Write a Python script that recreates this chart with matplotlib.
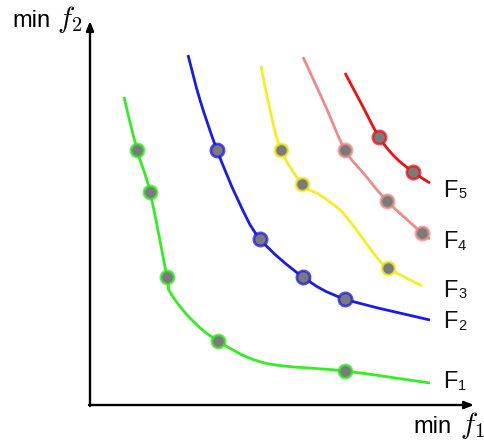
import numpy as np
import matplotlib
matplotlib.use("Agg")
import matplotlib.pyplot as plt
from matplotlib.path import Path
from matplotlib.patches import PathPatch
from matplotlib.colors import to_rgba

plt.rcParams['font.family'] = ['Liberation Sans', 'DejaVu Sans']
plt.rcParams['mathtext.fontset'] = 'cm'

# Data in chart units (origin at the axes corner)
f1_x = [34, 47, 60, 77, 80, 100, 128, 175, 255, 340]
f1_y = [308, 255, 213, 128, 113, 87, 64, 42, 34, 22]
f1_mx = [47, 60, 77, 128, 255]
f1_my = [255, 213, 128, 64, 34]

f2_x = [98, 110, 127, 148, 170, 213, 255, 340]
f2_y = [350, 305, 255, 205, 166, 128, 106, 85]
f2_mx = [127, 170, 213, 255]
f2_my = [255, 166, 128, 106]

f3_x = [171, 180, 191, 212, 230, 250, 265, 285, 298, 332]
f3_y = [339, 295, 255, 221, 210, 195, 177, 150, 137, 119]
f3_mx = [191, 212, 298]
f3_my = [255, 221, 137]

f4_x = [213, 235, 255, 275, 297, 332, 340]
f4_y = [348, 300, 255, 230, 204, 172, 166]
f4_mx = [255, 297, 332]
f4_my = [255, 204, 172]

f5_x = [255, 272, 289, 305, 323, 340]
f5_y = [332, 300, 268, 248, 233, 222]
f5_mx = [289, 323]
f5_my = [268, 233]

label_main = ['F', 'F', 'F', 'F', 'F']
label_sub = ['1', '2', '3', '4', '5']
label_y = [17, 77, 108, 157, 208]
colors = ['#33ee22', '#1a1aee', '#f5ee20', '#f08a8a', '#ee1111']

series = [
    (f1_x, f1_y, f1_mx, f1_my),
    (f2_x, f2_y, f2_mx, f2_my),
    (f3_x, f3_y, f3_mx, f3_my),
    (f4_x, f4_y, f4_mx, f4_my),
    (f5_x, f5_y, f5_mx, f5_my),
]


def smooth_path(xs, ys):
    """Catmull-Rom through the points, expressed as cubic Bezier segments."""
    p = np.column_stack([xs, ys]).astype(float)
    n = len(p)
    verts = [p[0]]
    codes = [Path.MOVETO]
    for i in range(n - 1):
        p0 = p[i - 1] if i > 0 else p[i]
        p1 = p[i]
        p2 = p[i + 1]
        p3 = p[i + 2] if i + 2 < n else p[i + 1]
        c1 = p1 + (p2 - p0) / 6.0
        c2 = p2 - (p3 - p1) / 6.0
        verts += [c1, c2, p2]
        codes += [Path.CURVE4] * 3
    return Path(verts, codes)


fig = plt.figure(figsize=(4.85, 4.41), dpi=100)
ax = fig.add_axes([0, 0, 1, 1])
ax.set_xlim(-90, 395)
ax.set_ylim(-36, 405)
ax.axis('off')

# axes with arrows
ax.annotate('', xy=(384, 0), xytext=(-1, 0),
            arrowprops=dict(arrowstyle='-|>,head_length=0.55,head_width=0.22',
                            color='black', lw=1.7, shrinkA=0, shrinkB=0))
ax.annotate('', xy=(0, 384), xytext=(0, -1),
            arrowprops=dict(arrowstyle='-|>,head_length=0.55,head_width=0.22',
                            color='black', lw=1.7, shrinkA=0, shrinkB=0))

for (xs, ys, mx, my), col, lm, ls, ly in zip(series, colors, label_main,
                                             label_sub, label_y):
    ax.add_patch(PathPatch(smooth_path(xs, ys), facecolor='none',
                           edgecolor=col, lw=2.0, capstyle='butt', zorder=2))
    ax.plot(mx, my, 'o', ms=9.5, mfc='#7a7a7a', mec=to_rgba(col, 0.75),
            mew=2.0, zorder=3)
    ax.text(353, ly, lm, fontsize=17, va='baseline', ha='left',
            color='#111111')
    ax.text(368, ly - 1.5, ls, fontsize=10.5, va='baseline', ha='left',
            color='#111111')

ax.text(-78, 378, 'min', fontsize=17, va='baseline', ha='left')
ax.text(-33, 378, '$f_2$', fontsize=21, va='baseline', ha='left')
ax.text(323, -28, 'min', fontsize=17, va='baseline', ha='left')
ax.text(370, -28, '$f_1$', fontsize=21, va='baseline', ha='left')

fig.savefig('out.png', dpi=100)
